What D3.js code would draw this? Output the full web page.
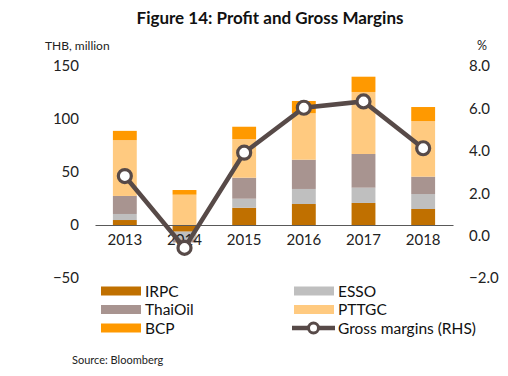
<!DOCTYPE html>
<html>
<head>
<meta charset="utf-8">
<script src="https://cdn.jsdelivr.net/npm/d3@7"></script>
<style>
  body { margin: 0; background: #fff; }
  svg { display: block; font-family: Lato, "Open Sans", sans-serif; }
</style>
</head>
<body>
<div class="chart"></div>
<script>
// data
const years = ["2013", "2014", "2015", "2016", "2017", "2018"];
const irpc = [4.7, -6.3, 16.3, 19.8, 20.8, 15.1];
const esso = [5.7, -7.2, 8.5, 14.2, 14.4, 14.1];
const thaiOil = [17.0, -3.0, 19.8, 27.6, 31.8, 16.4];
const pttgc = [52.6, 28.6, 36.5, 43.8, 58.5, 52.5];
const bcp = [8.8, 4.4, 11.6, 11.6, 14.4, 13.2];
const grossMargins = [2.81, -0.58, 3.91, 6.03, 6.33, 4.12];
const leftTicks = [-50, 0, 50, 100, 150];
const rightTicks = [-2, 0, 2, 4, 6, 8];

const width = 508, height = 376;
const margin = { top: 66, right: 55, bottom: 98, left: 95 };

const series = [
    { name: "IRPC", values: irpc, color: "#c07000" },
    { name: "ESSO", values: esso, color: "#bfbfbf" },
    { name: "ThaiOil", values: thaiOil, color: "#a89490" },
    { name: "PTTGC", values: pttgc, color: "#ffca80" },
    { name: "BCP", values: bcp, color: "#ff9900" }
];

const svg = d3.select(".chart").append("svg")
    .attr("width", width)
    .attr("height", height)

const xScale = d3.scaleBand()
    .domain(years)
    .range([margin.left, width - margin.right])
    .paddingInner(0.6)
    .paddingOuter(0.3)

const yScale = d3.scaleLinear()
    .domain([-50, 150])
    .range([height - margin.bottom, margin.top])

const y2Scale = d3.scaleLinear()
    .domain([-2, 8])
    .range([height - margin.bottom, margin.top])

// title and axis captions
svg.append("text")
    .text("Figure 14: Profit and Gross Margins")
    .attr("x", 270).attr("y", 24)
    .attr("text-anchor", "middle")
    .attr("font-weight", "bold")
    .attr("font-size", 17)
    .attr("fill", "#111")

svg.append("text").text("THB, million")
    .attr("x", 45).attr("y", 50)
    .attr("font-size", 12).attr("fill", "#222")

svg.append("text").text("%")
    .attr("x", 477).attr("y", 50)
    .attr("font-size", 12.5).attr("fill", "#222")

// stacked bars, positives up and negatives down
years.forEach((yr, i) => {
    let pos = 0, neg = 0;
    series.forEach(s => {
        const v = s.values[i];
        let y0, y1;
        if (v >= 0) { y0 = pos; y1 = pos + v; pos = y1; }
        else { y0 = neg; y1 = neg + v; neg = y1; }
        svg.append("rect")
            .attr("x", xScale(yr))
            .attr("width", xScale.bandwidth())
            .attr("y", yScale(Math.max(y0, y1)))
            .attr("height", Math.abs(yScale(y0) - yScale(y1)))
            .attr("fill", s.color)
    })
})

// left axis
const yAxis = d3.axisLeft(yScale).tickValues(leftTicks).tickSize(0).tickPadding(16)
svg.append("g")
    .attr("transform", `translate(${margin.left}, 0)`)
    .call(yAxis)
    .call(g => g.select(".domain").remove())
    .attr("font-size", 15)
    .attr("font-family", null)
    .selectAll("text").attr("fill", "#222")

// right axis
const y2Axis = d3.axisRight(y2Scale).tickValues(rightTicks).tickSize(0).tickPadding(16)
    .tickFormat(d3.format(".1f"))
svg.append("g")
    .attr("transform", `translate(${width - margin.right}, 0)`)
    .call(y2Axis)
    .call(g => g.select(".domain").remove())
    .attr("font-size", 15)
    .attr("font-family", null)
    .selectAll("text").attr("fill", "#222")

// x axis on zero line
const xAxis = d3.axisBottom(xScale).tickSize(0).tickPadding(9)
svg.append("g")
    .attr("transform", `translate(0, ${yScale(0)})`)
    .call(xAxis)
    .attr("font-size", 15)
    .attr("font-family", null)
    .call(g => g.select(".domain").attr("stroke", "#595959").attr("stroke-width", 1.2))
    .selectAll("text").attr("fill", "#222")

// gross margins line
const lineColor = "#574a48";
const line = d3.line()
    .x((d, i) => xScale(years[i]) + xScale.bandwidth() / 2)
    .y(d => y2Scale(d))

svg.append("path")
    .datum(grossMargins)
    .attr("d", line)
    .attr("fill", "none")
    .attr("stroke", lineColor)
    .attr("stroke-width", 4.5)

svg.selectAll("circle.marker")
    .data(grossMargins)
    .join("circle")
    .attr("class", "marker")
    .attr("cx", (d, i) => xScale(years[i]) + xScale.bandwidth() / 2)
    .attr("cy", d => y2Scale(d))
    .attr("r", 6.5)
    .attr("fill", "#fff")
    .attr("stroke", lineColor)
    .attr("stroke-width", 3.2)

// legend
const legendItems = [
    { name: "IRPC", color: "#c07000", col: 0, row: 0 },
    { name: "ESSO", color: "#bfbfbf", col: 1, row: 0 },
    { name: "ThaiOil", color: "#a89490", col: 0, row: 1 },
    { name: "PTTGC", color: "#ffca80", col: 1, row: 1 },
    { name: "BCP", color: "#ff9900", col: 0, row: 2 }
];
const colX = [101, 294];
const rowY = [291, 309.5, 328];

const legend = svg.append("g").attr("font-size", 15.5).attr("fill", "#111")
legendItems.forEach(d => {
    legend.append("rect")
        .attr("x", colX[d.col]).attr("y", rowY[d.row] - 4.5)
        .attr("width", 40).attr("height", 9)
        .attr("fill", d.color)
    legend.append("text").text(d.name)
        .attr("x", colX[d.col] + 44).attr("y", rowY[d.row] + 5.5)
})
legend.append("line")
    .attr("x1", 292).attr("x2", 335)
    .attr("y1", rowY[2]).attr("y2", rowY[2])
    .attr("stroke", lineColor).attr("stroke-width", 4.5)
legend.append("circle")
    .attr("cx", 313.5).attr("cy", rowY[2]).attr("r", 5)
    .attr("fill", "#fff").attr("stroke", lineColor).attr("stroke-width", 3)
legend.append("text").text("Gross margins (RHS)")
    .attr("x", 338).attr("y", rowY[2] + 5.5)

svg.append("text").text("Source: Bloomberg")
    .attr("x", 72).attr("y", 364)
    .attr("font-size", 11).attr("fill", "#222")
</script>
</body>
</html>
